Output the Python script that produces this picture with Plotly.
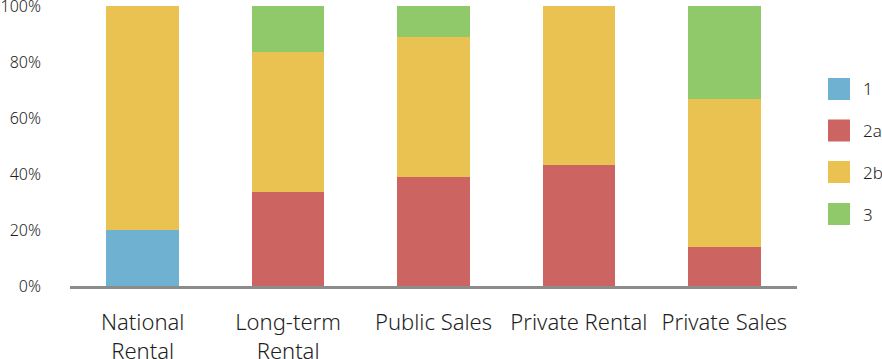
import plotly.graph_objects as go

categories = ["National<br>Rental", "Long-term<br>Rental", "Public Sales", "Private Rental", "Private Sales"]
series_names = ["1", "2a", "2b", "3"]
s1 = [20.0, 0, 0, 0, 0]
s2a = [0, 33.4, 38.9, 43.1, 13.8]
s2b = [80.0, 50.1, 50.2, 56.9, 52.9]
s3 = [0, 16.5, 10.9, 0, 33.3]
y_ticks = [0, 20, 40, 60, 80, 100]
y_ticktext = ["0%", "20%", "40%", "60%", "80%", "100%"]

colors = ["#6eb1d1", "#cc6461", "#e9c252", "#8fc96a"]
series_values = [s1, s2a, s2b, s3]

W, H = 882, 359
ML, MR, MT, MB = 70, 85, 6, 73
FONT = "Noto Sans"
TXT = "#1e1e1e"

fig = go.Figure()
for name, vals, col in zip(series_names, series_values, colors):
    fig.add_trace(go.Bar(x=categories, y=vals, name=name, marker=dict(color=col, line=dict(width=0)),
                         showlegend=False))

# custom legend (squares + labels)
pw = W - ML - MR
ph = H - MT - MB
legend_centers = [89, 130.5, 172, 214]
for name, col, cy in zip(series_names, colors, legend_centers):
    x0 = (828 - ML) / pw
    x1 = (850 - ML) / pw
    y0 = (H - MB - (cy + 11)) / ph
    y1 = (H - MB - (cy - 11)) / ph
    fig.add_shape(type="rect", xref="paper", yref="paper", x0=x0, x1=x1, y0=y0, y1=y1,
                  fillcolor=col, line=dict(width=0))
    fig.add_annotation(xref="paper", yref="paper", x=(861 - ML) / pw, y=(H - MB - cy) / ph,
                       text=name, showarrow=False, xanchor="left", yanchor="middle",
                       font=dict(family=FONT, size=17, color=TXT, weight=300))

fig.update_layout(
    barmode="stack",
    bargap=0.5,
    width=W, height=H,
    margin=dict(l=ML, r=MR, t=MT, b=MB, pad=0, autoexpand=False),
    paper_bgcolor="white", plot_bgcolor="white",
    font=dict(family=FONT, color=TXT),
)
fig.update_xaxes(showline=True, linecolor="#8c8c8c", linewidth=3, showgrid=False, ticks="",
                 tickfont=dict(family=FONT, size=22, color=TXT, weight=300), ticklabelstandoff=15,
                 zeroline=False, automargin=False)
fig.update_yaxes(range=[0, 100], tickvals=y_ticks, ticktext=y_ticktext, showgrid=False, zeroline=False,
                 showline=False, ticks="", tickfont=dict(family=FONT, size=16, color=TXT, weight=300),
                 ticklabelstandoff=28, automargin=False, ticklabeloverflow="allow")

fig.write_html("out.html", config={"displayModeBar": False},
               post_script="document.body.style.margin='0px';document.body.style.overflow='hidden';")
